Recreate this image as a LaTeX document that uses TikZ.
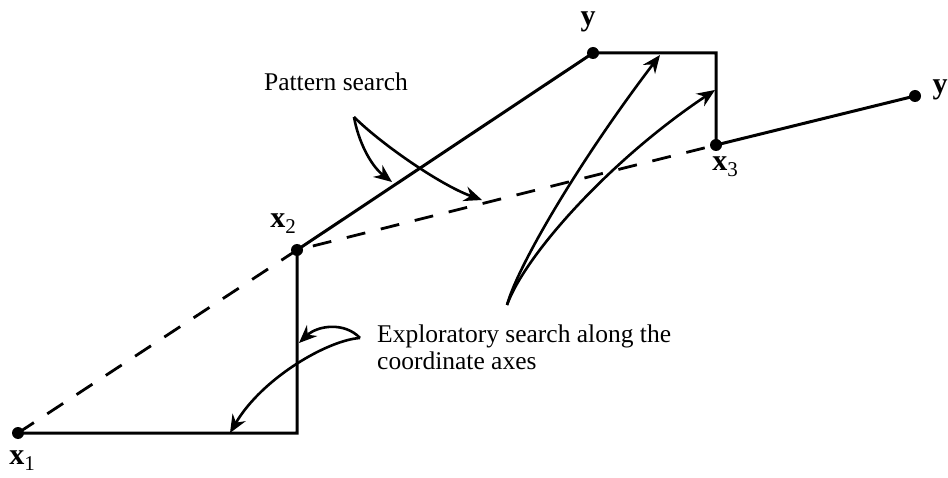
\documentclass[tikz,border=0pt]{standalone}
\usepackage{fontspec}
\setmainfont{Liberation Serif}
\usetikzlibrary{arrows.meta}
\newcommand\vlab[2]{{\fontsize{30}{30}\selectfont\bfseries #1}\raisebox{-6pt}{\fontsize{21}{21}\selectfont #2}}
\tikzset{
  dot/.style={circle,fill=black,inner sep=0pt,minimum size=12pt},
  path/.style={line width=3pt,line join=miter},
  dashpath/.style={line width=2.8pt,dash pattern=on 19pt off 16pt},
  arr/.style={line width=2.6pt,-{Stealth[length=18pt,width=15pt,inset=6pt]}},
  lab/.style={inner sep=0pt},
  txt/.style={inner sep=0pt,font=\fontsize{25.5}{27}\selectfont}
}
\begin{document}
\begin{tikzpicture}[x=1pt,y=-1pt]
\useasboundingbox (0,0) rectangle (948,478);
% points
\node[dot] (x1) at (18,433) {};
\coordinate (c1) at (297,433);
\node[dot] (x2) at (297,250) {};
\node[dot] (ya) at (593,53) {};
\coordinate (c2) at (716,53);
\node[dot] (x3) at (716,145) {};
\node[dot] (yb) at (915,96) {};
% lines
\draw[path] (x1.center) -- (c1) -- (x2.center) -- (ya.center) -- (c2) -- (x3.center) -- (yb.center);
\draw[dashpath] (x1.center) -- (x2.center) -- (x3.center);
% labels
\node[lab] (lx1) at (22,461) {\vlab{x}{1}};
\node[lab] (lx2) at (283,224) {\vlab{x}{2}};
\node[lab] (lx3) at (725,167) {\vlab{x}{3}};
\node[lab] (lya) at (588,22) {\vlab{y}{}};
\node[lab] (lyb) at (940,90) {\vlab{y}{}};
% pattern search
\node[txt] (pt) at (336,82) {Pattern search};
\coordinate (ps) at (354,117);
\coordinate (pa) at (392,182);
\coordinate (pb) at (482,200);
\draw[arr] (ps) .. controls (358,140) and (370,165) .. (pa);
\draw[arr] (ps) .. controls (380,143) and (440,185) .. (pb);
% exploratory search
\node[txt,anchor=base west] (et1) at (377,343) {Exploratory search along the};
\node[txt,anchor=base west] (et2) at (377,370) {coordinate axes};
\coordinate (es) at (360,338);
\coordinate (ea) at (299,343);
\coordinate (eb) at (230,433);
\draw[arr] (es) .. controls (345,322) and (318,325) .. (ea);
\draw[arr] (es) .. controls (328,340) and (262,378) .. (eb);
\coordinate (rs) at (507,305);
\coordinate (ra) at (660,55);
\coordinate (rb) at (715,90);
\draw[arr] (rs) .. controls (518,265) and (580,160) .. (ra);
\draw[arr] (rs) .. controls (525,255) and (610,160) .. (rb);
\end{tikzpicture}
\end{document}
